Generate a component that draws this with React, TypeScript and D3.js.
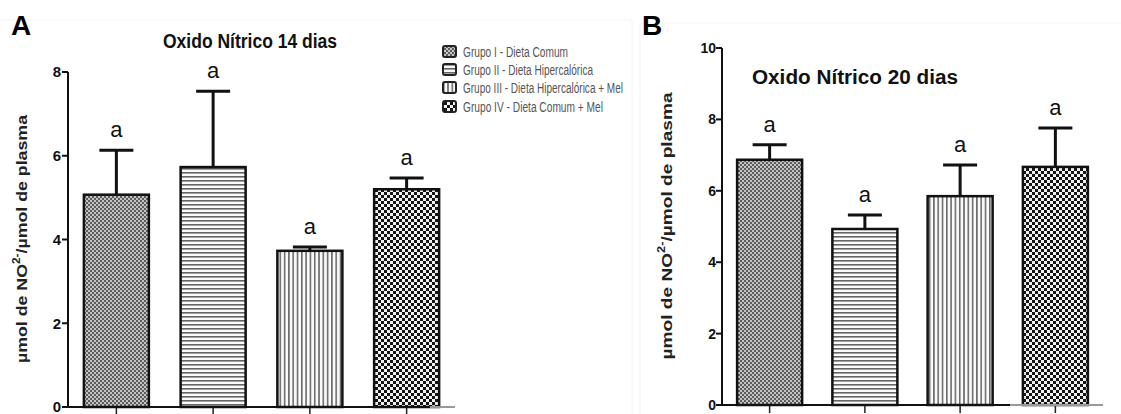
import React from "react";
import * as d3 from "d3";

const groups = [
  "Grupo I - Dieta Comum",
  "Grupo II - Dieta Hipercalórica",
  "Grupo III - Dieta Hipercalórica + Mel",
  "Grupo IV - Dieta Comum + Mel",
];
const patternIds = ["pI", "pII", "pIII", "pIV"];
const means14 = [5.07, 5.73, 3.73, 5.2];
const errs14 = [1.06, 1.81, 0.09, 0.27];
const means20 = [6.87, 4.93, 5.85, 6.67];
const errs20 = [0.42, 0.39, 0.87, 1.09];
const ticks14 = [0, 2, 4, 6, 8];
const ticks20 = [0, 2, 4, 6, 8, 10];
const sigLabels = ["a", "a", "a", "a"];
const legendWidths = [105, 130, 160, 140];

const NARROW = "'Liberation Sans Narrow', 'Arial Narrow', 'Liberation Sans', Arial, sans-serif";
const SANS = "'Liberation Sans', Arial, sans-serif";

type PanelProps = {
  means: number[];
  errs: number[];
  ticks: number[];
  xRange: [number, number];
  yRange: [number, number];
  yMax: number;
  tickFont: number;
  tickLabelX: number;
  yLabelX: number;
  yLabelY: number;
  yLabelLen: number;
  title: string;
  titleX: number;
  titleY: number;
  titleLen: number;
  titleSize: number;
  blackEnd: number;
};

function Panel(p: PanelProps) {
  const x = d3.scalePoint<string>().domain(groups).range(p.xRange).padding(0.5);
  const y = d3.scaleLinear().domain([0, p.yMax]).range(p.yRange);
  const bw = 65;
  const cap = 34;
  const axisX = p.xRange[0];
  const y0 = y(0);
  return (
    <g>
      {groups.map((g, i) => {
        const cx = x(g)!;
        const top = y(p.means[i]);
        const et = y(p.means[i] + p.errs[i]);
        return (
          <g key={g}>
            <line x1={cx} x2={cx} y1={top} y2={et} stroke="#111" strokeWidth={3} />
            <line x1={cx - cap / 2} x2={cx + cap / 2} y1={et} y2={et} stroke="#111" strokeWidth={3} />
            <rect
              x={cx - bw / 2}
              y={top}
              width={bw}
              height={y0 - top}
              fill={`url(#${patternIds[i]})`}
              stroke="#111"
              strokeWidth={2.5}
            />
            <text
              x={cx}
              y={et - 13}
              textAnchor="middle"
              fontFamily={SANS}
              fontSize={22}
              fill="#111"
            >
              {sigLabels[i]}
            </text>
            <line x1={cx} x2={cx} y1={y0} y2={y0 + 8} stroke="#222" strokeWidth={1.5} />
          </g>
        );
      })}
      <line x1={axisX} x2={axisX} y1={y(p.yMax)} y2={y0 + 1} stroke="#111" strokeWidth={2} />
      {p.ticks.map((t) => (
        <g key={t}>
          <line x1={axisX - 6} x2={axisX} y1={y(t)} y2={y(t)} stroke="#111" strokeWidth={2} />
          <text
            x={p.tickLabelX}
            y={y(t)}
            dy="0.36em"
            textAnchor="end"
            fontFamily={NARROW}
            fontWeight="bold"
            fontSize={p.tickFont}
            fill="#111"
          >
            {t}
          </text>
        </g>
      ))}
      <line x1={axisX - 1} x2={p.blackEnd} y1={y0} y2={y0} stroke="#111" strokeWidth={2} />
      <line x1={p.blackEnd} x2={p.xRange[1]} y1={y0} y2={y0} stroke="#999" strokeWidth={2} />
      <text
        transform={`translate(${p.yLabelX},${p.yLabelY}) rotate(-90)`}
        textAnchor="middle"
        dominantBaseline="middle"
        fontFamily={SANS}
        fontWeight="bold"
        fontSize={15}
        textLength={p.yLabelLen}
        lengthAdjust="spacingAndGlyphs"
        fill="#222"
      >
        µmol de NO
        <tspan fontSize={10} dy={-6}>2-</tspan>
        <tspan dy={6}>/µmol de plasma</tspan>
      </text>
      <text
        x={p.titleX}
        y={p.titleY}
        fontFamily={NARROW}
        fontWeight="bold"
        fontSize={p.titleSize}
        textLength={p.titleLen}
        lengthAdjust="spacingAndGlyphs"
        fill="#111"
      >
        {p.title}
      </text>
    </g>
  );
}

export default function App() {
  const legendRowsY = [52, 70, 88, 107];
  return (
    <svg
      width={1121}
      height={414}
      style={{ position: "absolute", left: 0, top: 0, background: "#fff" }}
    >
      <defs>
        <pattern id="pI" width={4} height={4} patternUnits="userSpaceOnUse">
          <rect width={4} height={4} fill="#c4c4c4" />
          <rect width={2} height={2} fill="#5c5c5c" />
          <rect x={2} y={2} width={2} height={2} fill="#5c5c5c" />
        </pattern>
        <pattern id="pII" width={10} height={4} patternUnits="userSpaceOnUse">
          <rect width={10} height={4} fill="#fafafa" />
          <rect y={0} width={10} height={1.6} fill="#666" />
        </pattern>
        <pattern id="pIII" width={4.3} height={10} patternUnits="userSpaceOnUse">
          <rect width={4.3} height={10} fill="#fafafa" />
          <rect x={0} width={1.6} height={10} fill="#6a6a6a" />
        </pattern>
        <pattern id="pIV" width={6} height={6} patternUnits="userSpaceOnUse">
          <rect width={6} height={6} fill="#f2f2f2" />
          <rect width={3} height={3} fill="#141414" />
          <rect x={3} y={3} width={3} height={3} fill="#141414" />
        </pattern>
      </defs>

      <line x1={0} x2={632} y1={20} y2={20} stroke="#f4f4f4" strokeWidth={1} />
      <line x1={632} x2={632} y1={20} y2={414} stroke="#f4f4f4" strokeWidth={1} />
      <line x1={640} x2={1121} y1={23} y2={23} stroke="#f4f4f4" strokeWidth={1} />
      <line x1={640} x2={640} y1={23} y2={414} stroke="#f4f4f4" strokeWidth={1} />

      <text x={11} y={35} fontFamily={SANS} fontWeight="bold" fontSize={28} fill="#000">
        A
      </text>
      <text x={642} y={35} fontFamily={SANS} fontWeight="bold" fontSize={28} fill="#000">
        B
      </text>

      <Panel
        means={means14}
        errs={errs14}
        ticks={ticks14}
        xRange={[68, 455]}
        yRange={[407, 72]}
        yMax={8}
        tickFont={15}
        tickLabelX={61}
        yLabelX={23}
        yLabelY={239}
        yLabelLen={248}
        title="Oxido Nítrico 14 dias"
        titleX={163}
        titleY={48}
        titleLen={174}
        titleSize={20}
        blackEnd={430}
      />
      <Panel
        means={means20}
        errs={errs20}
        ticks={ticks20}
        xRange={[722, 1103]}
        yRange={[405, 48]}
        yMax={10}
        tickFont={14}
        tickLabelX={716}
        yLabelX={668}
        yLabelY={226}
        yLabelLen={267}
        title="Oxido Nítrico 20 dias"
        titleX={752}
        titleY={84}
        titleLen={206}
        titleSize={20}
        blackEnd={1010}
      />

      {groups.map((g, i) => (
        <g key={g}>
          <rect
            x={443}
            y={legendRowsY[i] - 6}
            width={13}
            height={11}
            rx={2}
            fill={`url(#${patternIds[i]})`}
            stroke="#222"
            strokeWidth={2}
          />
          <text
            x={463}
            y={legendRowsY[i]}
            dy="0.35em"
            fontFamily={NARROW}
            fontSize={14}
            textLength={legendWidths[i]}
            lengthAdjust="spacingAndGlyphs"
            fill="#555"
          >
            {g}
          </text>
        </g>
      ))}
    </svg>
  );
}
